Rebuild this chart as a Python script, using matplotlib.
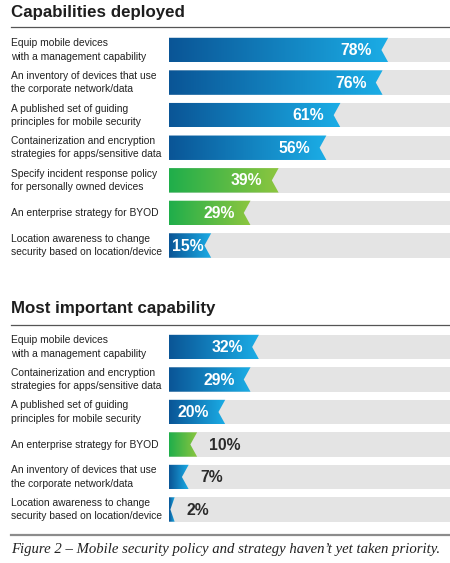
import numpy as np
import matplotlib.pyplot as plt
from matplotlib.colors import LinearSegmentedColormap
from matplotlib.patches import Polygon, Rectangle
import matplotlib.transforms as mtransforms

# ---- data ----
deployed_labels = [
    "Equip mobile devices\nwith a management capability",
    "An inventory of devices that use\nthe corporate network/data",
    "A published set of guiding\nprinciples for mobile security",
    "Containerization and encryption\nstrategies for apps/sensitive data",
    "Specify incident response policy\nfor personally owned devices",
    "An enterprise strategy for BYOD",
    "Location awareness to change\nsecurity based on location/device",
]
deployed_values = [78, 76, 61, 56, 39, 29, 15]

important_labels = [
    "Equip mobile devices\nwith a management capability",
    "Containerization and encryption\nstrategies for apps/sensitive data",
    "A published set of guiding\nprinciples for mobile security",
    "An enterprise strategy for BYOD",
    "An inventory of devices that use\nthe corporate network/data",
    "Location awareness to change\nsecurity based on location/device",
]
important_values = [32, 29, 20, 10, 7, 2]

# rows drawn in green (policy / strategy items)
green_rows = ["Specify incident response policy\nfor personally owned devices",
              "An enterprise strategy for BYOD"]

W, H = 450, 563
blue = LinearSegmentedColormap.from_list("b", ["#0a5596", "#1bade6"])
green = LinearSegmentedColormap.from_list("g", ["#1fae4b", "#8dc63f"])
grad = np.linspace(0, 1, 256).reshape(1, -1)

fig = plt.figure(figsize=(4.5, 5.63), dpi=100)
fig.patch.set_facecolor("white")


def fx(x):
    return x / W


def fy(y):
    return 1 - y / H


def section(top_px, bottom_px, labels, values, title, title_y, rule_y):
    ax = fig.add_axes([fx(169), fy(bottom_px), 1 - fx(169), (bottom_px - top_px) / H])
    n = len(values)
    ax.set_xlim(0, 100)
    ax.set_ylim(n - 0.5, -0.5)
    ax.axis("off")
    h = 0.75
    notch = 2.4
    trans = mtransforms.blended_transform_factory(fig.transFigure, ax.transData)
    pct = dict(fontsize=11.3, fontweight="bold", family="Liberation Sans", va="center", zorder=3)
    for i, (lab, v) in enumerate(zip(labels, values)):
        ax.add_patch(Rectangle((0, i - h / 2), 100, h, color="#e4e4e4", lw=0, zorder=1))
        nd = min(notch, v * 0.75)
        poly = Polygon([(0, i - h / 2), (v, i - h / 2), (v - nd, i), (v, i + h / 2), (0, i + h / 2)],
                       closed=True, facecolor="none", edgecolor="none")
        ax.add_patch(poly)
        cmap = green if lab in green_rows else blue
        im = ax.imshow(grad, cmap=cmap, extent=(0, v, i + h / 2, i - h / 2),
                       aspect="auto", interpolation="bilinear", zorder=2)
        im.set_clip_path(poly)
        txt = f"{v}%"
        if v >= 14:
            right = v - 5.7
            if right < 12:
                ax.text(1.0, i + 0.02, txt, color="white", ha="left", **pct)
            else:
                ax.text(right, i + 0.02, txt, color="white", ha="right", **pct)
        else:
            ax.text(v + 4.3, i + 0.02, txt, color="#2a2a2a", ha="left", **pct)
        ax.text(fx(11), i, lab, transform=trans, fontsize=7.4, family="Liberation Sans",
                color="#222222", ha="left", va="center", linespacing=1.4)
    fig.text(fx(11), fy(title_y), title, fontsize=12.2, fontweight="bold",
             family="Liberation Sans", color="#1e1e1e", ha="left", va="center")
    fig.add_artist(plt.Line2D([fx(11), 1], [fy(rule_y), fy(rule_y)], color="#555555", lw=0.9))
    return ax


section(33.7, 261.8, deployed_labels, deployed_values, "Capabilities deployed", 13, 27)
section(330.75, 525.75, important_labels, important_values, "Most important capability", 308, 325)

fig.add_artist(plt.Line2D([fx(11), 1], [fy(535), fy(535)], color="#8c8c8c", lw=1.6))
fig.text(fx(11), fy(549), "Figure 2 \u2013 Mobile security policy and strategy haven\u2019t yet taken priority.",
         fontsize=10.6, style="italic", family="Liberation Serif", color="#222222",
         ha="left", va="center")

fig.savefig("out.png", dpi=100)
